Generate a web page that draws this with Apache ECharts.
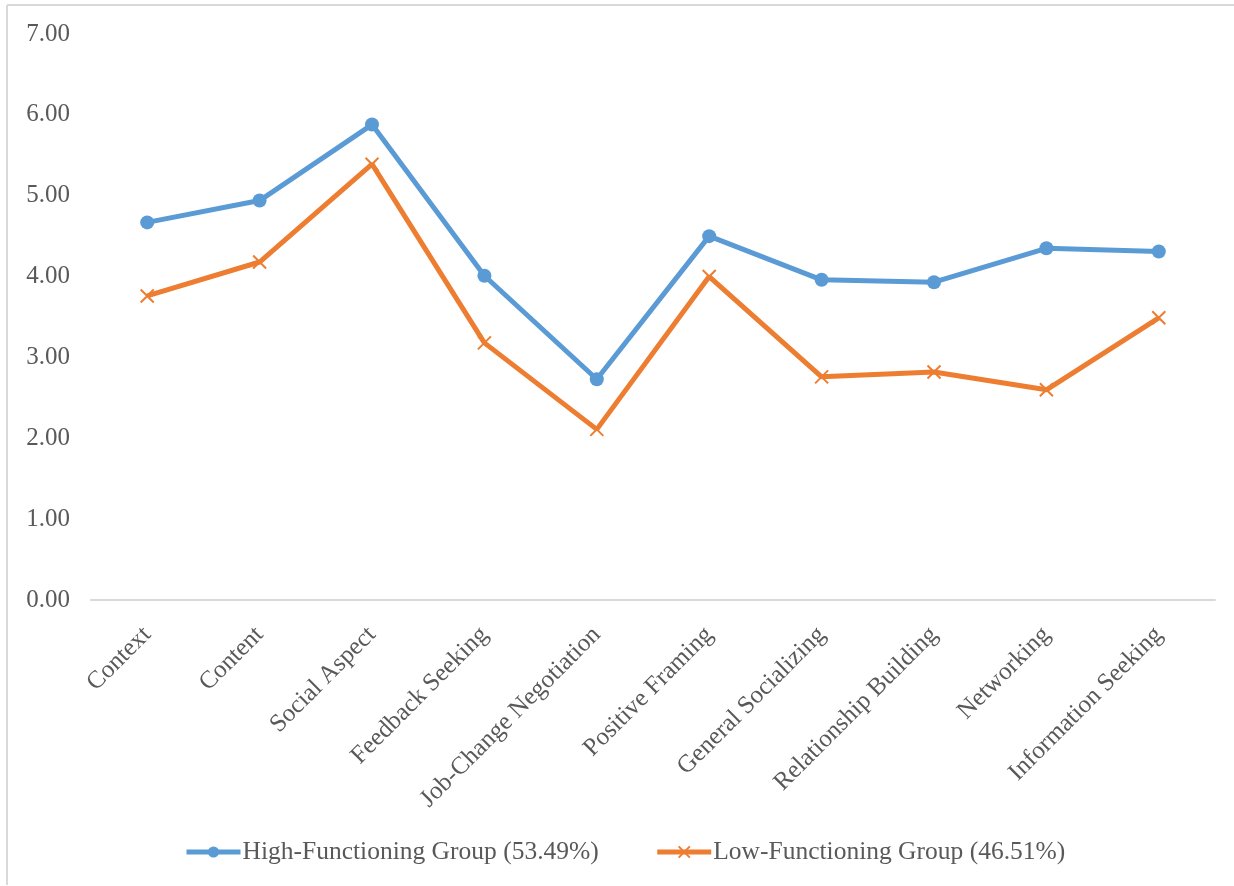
<!DOCTYPE html>
<html>
<head>
<meta charset="utf-8">
<script src="https://cdn.jsdelivr.net/npm/echarts@6/dist/echarts.min.js"></script>
<style>html,body{margin:0;padding:0;background:#fff;}#c{width:1234px;height:886px;}</style>
</head>
<body>
<div id="c"></div>
<script>
const categories = ['Context','Content','Social Aspect','Feedback Seeking','Job-Change Negotiation','Positive Framing','General Socializing','Relationship Building','Networking','Information Seeking'];
const highValues = [4.67, 4.94, 5.88, 4.01, 2.73, 4.50, 3.96, 3.93, 4.35, 4.31];
const lowValues = [3.76, 4.18, 5.39, 3.18, 2.11, 4.00, 2.76, 2.82, 2.60, 3.49];
const seriesNames = ['High-Functioning Group (53.49%)', 'Low-Functioning Group (46.51%)'];
const yTicks = [0, 7, 1];

const font = '"Liberation Serif", "Times New Roman", serif';
const txt = '#595959';
const chart = echarts.init(document.getElementById('c'), null, {renderer: 'canvas'});
chart.setOption({
  animation: false,
  backgroundColor: '#fff',
  graphic: [
    {type: 'line', shape: {x1: 7, y1: 5, x2: 1234, y2: 5}, style: {stroke: '#d9d9d9', lineWidth: 2}},
    {type: 'line', shape: {x1: 7, y1: 5, x2: 7, y2: 885}, style: {stroke: '#d9d9d9', lineWidth: 2}}
  ],
  grid: {left: 91, right: 19, top: 34, bottom: 286, containLabel: false},
  legend: {
    bottom: 16, left: 179, itemGap: 56, itemWidth: 54, itemHeight: 14,
    lineStyle: {width: 5},
    textStyle: {fontFamily: font, fontSize: 25.5, color: txt, padding: [0, 0, 0, -3]},
    data: seriesNames
  },
  xAxis: {
    type: 'category', data: categories, boundaryGap: true,
    axisLine: {lineStyle: {color: '#d9d9d9', width: 2}},
    axisTick: {show: false},
    axisLabel: {rotate: 45, interval: 0, margin: 31, fontFamily: font, fontSize: 25, color: txt}
  },
  yAxis: {
    type: 'value', min: yTicks[0], max: yTicks[1], interval: yTicks[2],
    axisLine: {show: false}, axisTick: {show: false}, splitLine: {show: false},
    axisLabel: {margin: 21, fontFamily: font, fontSize: 25, color: txt, formatter: v => v.toFixed(2)}
  },
  series: [
    {
      name: seriesNames[0], type: 'line', data: highValues,
      symbol: 'circle', symbolSize: 14,
      lineStyle: {color: '#5b9bd5', width: 5},
      itemStyle: {color: '#5b9bd5'}
    },
    {
      name: seriesNames[1], type: 'line', data: lowValues,
      symbol: 'path://M0,0L10,10M10,0L0,10', symbolSize: 13,
      lineStyle: {color: '#ed7d31', width: 5},
      itemStyle: {color: '#ed7d31', borderColor: '#ed7d31', borderWidth: 2}
    }
  ]
});
</script>
</body>
</html>
